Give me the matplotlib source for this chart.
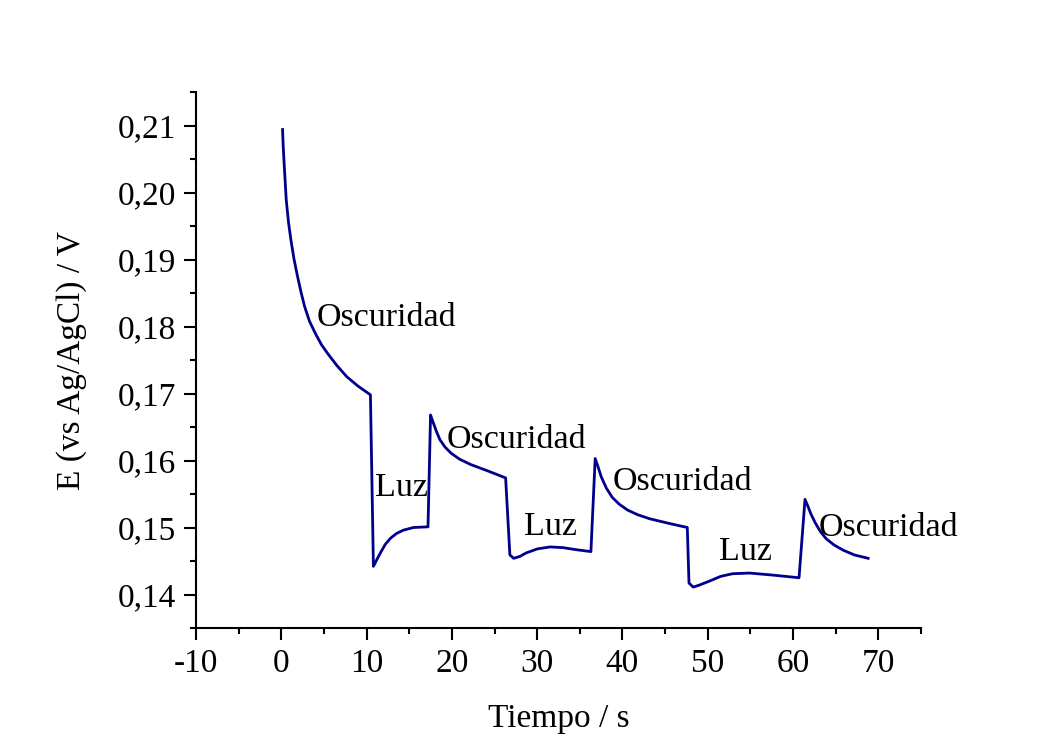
import matplotlib
matplotlib.use("Agg")
import matplotlib.pyplot as plt
from matplotlib.ticker import MultipleLocator, FuncFormatter

plt.rcParams['font.family'] = ['Liberation Serif', 'DejaVu Serif']

# Data
tiempo = [0.15, 0.22, 0.35, 0.58, 0.85, 1.13, 1.5, 1.9, 2.3, 2.73, 3.3, 3.98, 4.7, 5.42, 6.5, 7.68, 9.0, 10.45,
          10.8, 11.2, 11.7, 12.2, 12.8, 13.5, 14.3, 15.5, 17.2,
          17.5, 17.8, 18.2, 18.6, 19.2, 19.9, 20.9, 22.2, 24.1, 26.3,
          26.8, 27.25, 28.0, 28.7, 30.0, 31.5, 33.0, 34.5, 36.3,
          36.8, 37.1, 37.5, 38.1, 38.8, 39.6, 40.6, 41.8, 43.2, 45.5, 47.6,
          47.8, 48.3, 49.0, 50.2, 51.5, 52.9, 54.9, 57.6, 60.7,
          61.4, 61.7, 62.1, 62.6, 63.2, 63.9, 64.8, 65.9, 67.2, 68.8]
potencial = [0.2094, 0.2070, 0.2039, 0.1989, 0.1955, 0.1929, 0.1900, 0.1875, 0.1852, 0.1830, 0.1808, 0.1790,
             0.1773, 0.1760, 0.1742, 0.1725, 0.1711, 0.1698,
             0.1442, 0.1452, 0.1464, 0.1475, 0.1484, 0.1491, 0.1496, 0.1500, 0.1501,
             0.1668, 0.1657, 0.1643, 0.1631, 0.1620, 0.1611, 0.1602, 0.1594, 0.1585, 0.1574,
             0.1459, 0.1454, 0.1457, 0.1462, 0.1468, 0.1471, 0.1470, 0.1467, 0.1464,
             0.1603, 0.1592, 0.1576, 0.1559, 0.1545, 0.1535, 0.1526, 0.1519, 0.1513, 0.1506, 0.1500,
             0.1417, 0.1411, 0.1414, 0.1420, 0.1427, 0.1431, 0.1432, 0.1429, 0.1425,
             0.1542, 0.1533, 0.1520, 0.1507, 0.1494, 0.1483, 0.1474, 0.1466, 0.1459, 0.1454]

etiquetas = ["Oscuridad", "Luz", "Oscuridad", "Luz", "Oscuridad", "Luz", "Oscuridad"]
etiqueta_x = [4.2, 11.0, 19.4, 28.4, 38.8, 51.3, 63.0]
etiqueta_y = [0.1813, 0.1559, 0.1631, 0.1501, 0.1569, 0.1464, 0.1499]

x_ticks = [-10, 0, 10, 20, 30, 40, 50, 60, 70]
y_ticks = [0.14, 0.15, 0.16, 0.17, 0.18, 0.19, 0.20, 0.21]

fig = plt.figure(figsize=(10.52, 7.47), dpi=100)
ax = fig.add_axes([196/1052, 1-628/747, (921-196)/1052, (628-92)/747])

ax.plot(tiempo, potencial, color='#00008B', lw=2.0, solid_joinstyle='round')

for t, x, y in zip(etiquetas, etiqueta_x, etiqueta_y):
    ax.text(x, y, t, fontsize=24.5, ha='left', va='center')

ax.set_xlim(-10, 75)
ax.set_ylim(0.135, 0.215)
ax.set_xticks(x_ticks)
ax.set_yticks(y_ticks)
ax.xaxis.set_minor_locator(MultipleLocator(5))
ax.yaxis.set_minor_locator(MultipleLocator(0.005))
ax.xaxis.set_major_formatter(FuncFormatter(lambda v, p: f"{v:.0f}"))
ax.yaxis.set_major_formatter(FuncFormatter(lambda v, p: f"{v:.2f}".replace('.', ',')))

for s in ['top', 'right']:
    ax.spines[s].set_visible(False)
for s in ['left', 'bottom']:
    ax.spines[s].set_linewidth(1.5)

ax.tick_params(which='major', direction='out', length=8.5, width=1.5, labelsize=24, pad=6)
ax.tick_params(which='minor', direction='out', length=4.5, width=1.5)

ax.set_xlabel("Tiempo / s", fontsize=24, labelpad=18)
ax.set_ylabel("E (vs Ag/AgCl) / V", fontsize=24, labelpad=22)

fig.savefig("out.png", dpi=100)
